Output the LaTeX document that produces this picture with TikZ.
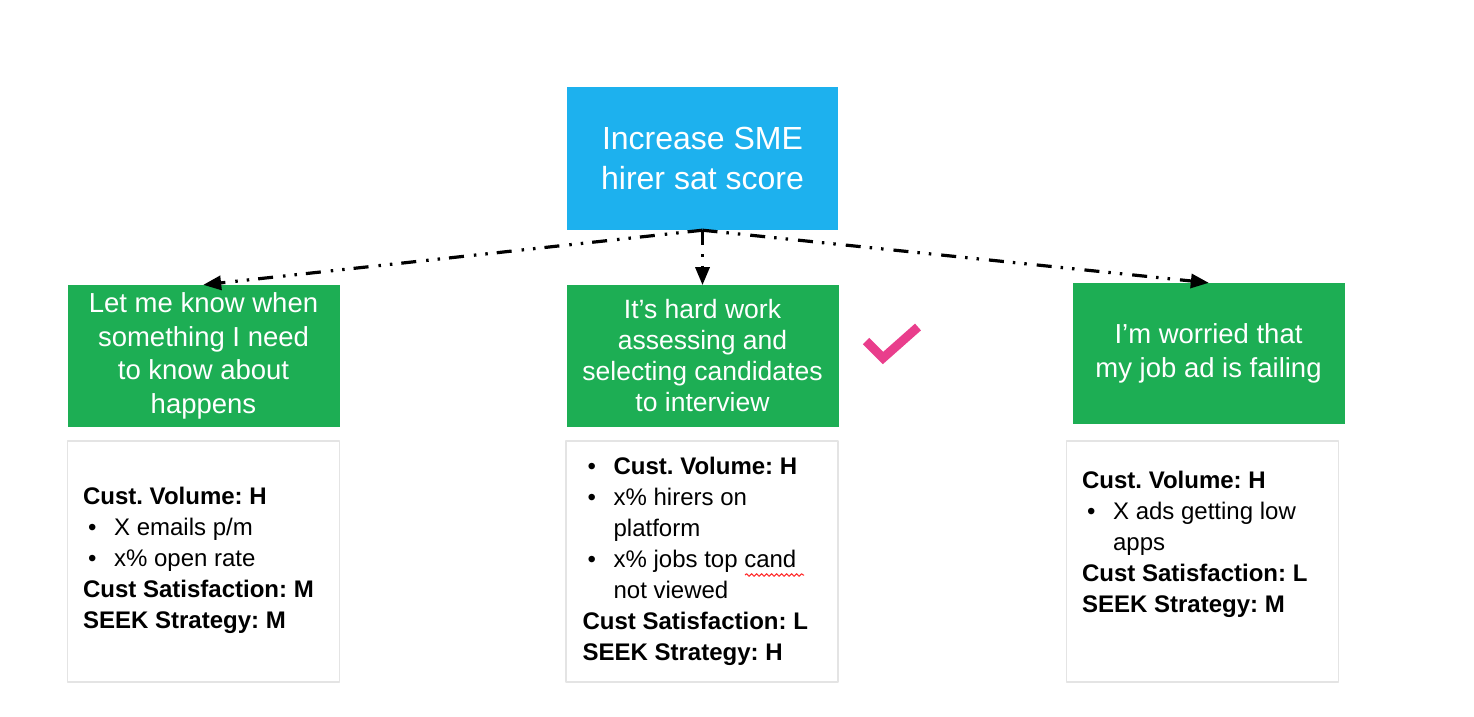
\documentclass[tikz,border=0pt]{standalone}
\usepackage{fontspec}
\setmainfont{Liberation Sans}
\usetikzlibrary{arrows,decorations.pathmorphing}
\definecolor{goalblue}{RGB}{29,177,238}
\definecolor{needgreen}{RGB}{29,174,84}
\definecolor{tickpink}{RGB}{233,62,140}
\definecolor{boxgray}{RGB}{228,228,228}
\newcommand\bul{\makebox[31pt][l]{\hspace{5pt}\textbullet}}
\newcommand\ind{\hspace*{31pt}}
\frenchspacing

\begin{document}
\begin{tikzpicture}[line join=round,>=triangle 45,x=1pt,y=-1pt,
		goal/.style={fill=goalblue,text=white,inner sep=0pt,minimum width=271pt,minimum height=143pt,align=center,font=\fontsize{32}{40}\selectfont},
		need/.style={fill=needgreen,text=white,inner sep=0pt,minimum width=272pt,minimum height=142pt,align=center,font=\fontsize{27.5}{33.5}\selectfont},
		info/.style={draw=boxgray,line width=1.2pt,minimum width=272pt,minimum height=241pt},
		facts/.style={anchor=north west,inner sep=0pt,align=left,font=\fontsize{24}{31}\selectfont},
		link/.style={->,line width=3.2pt,dash pattern=on 15pt off 9pt on 2.5pt off 9pt on 2.5pt off 10pt}]
		\useasboundingbox (0,0) rectangle (1474,716);
		% goal and needs
		\node[goal] (goal) at (702.5,158.5) {Increase SME\\hirer sat score};
		\node[need] (need1) at (203.5,356) {Let me know when\\something I need\\to know about\\happens};
		\node[need,font=\fontsize{26.5}{31}\selectfont] (need2) at (702.5,356) {It’s hard work\\assessing and\\selecting candidates\\to interview};
		\node[need,minimum height=141pt] (need3) at (1208.5,353.5) {I’m worried that\\my job ad is failing};
		\draw[link] (goal.south) -- (need1.north);
		\draw[link] (goal.south) -- (need2.north);
		\draw[link] (goal.south) -- (need3.north);
		% tick
		\draw[tickpink,line width=9pt,line cap=butt,line join=miter] (866,341) -- (883,358) -- (918,327);
		% details
		\node[info] (info1) at (203.5,561.5) {};
		\node[info] (info2) at (702,561.5) {};
		\node[info] (info3) at (1202.5,561.5) {};
		\node[facts] (facts1) at ([shift={(16,46)}]info1.north west) {\textbf{Cust. Volume: H}\\\bul X emails p/m\\\bul x\% open rate\\\textbf{Cust Satisfaction: M}\\\textbf{SEEK Strategy: M}};
		\node[facts] (facts2) at ([shift={(17,16)}]info2.north west) {\bul\textbf{Cust. Volume: H}\\\bul x\% hirers on\\\ind platform\\\bul x\% jobs top cand\\\ind not viewed\\\textbf{Cust Satisfaction: L}\\\textbf{SEEK Strategy: H}};
		\node[facts] (facts3) at ([shift={(16,30)}]info3.north west) {\textbf{Cust. Volume: H}\\\bul X ads getting low\\\ind apps\\\textbf{Cust Satisfaction: L}\\\textbf{SEEK Strategy: M}};
		\draw[red!85,line width=1pt,decorate,decoration={snake,amplitude=1.3pt,segment length=5pt}] (745,575) -- (804,575);
	\end{tikzpicture}
\end{document}
